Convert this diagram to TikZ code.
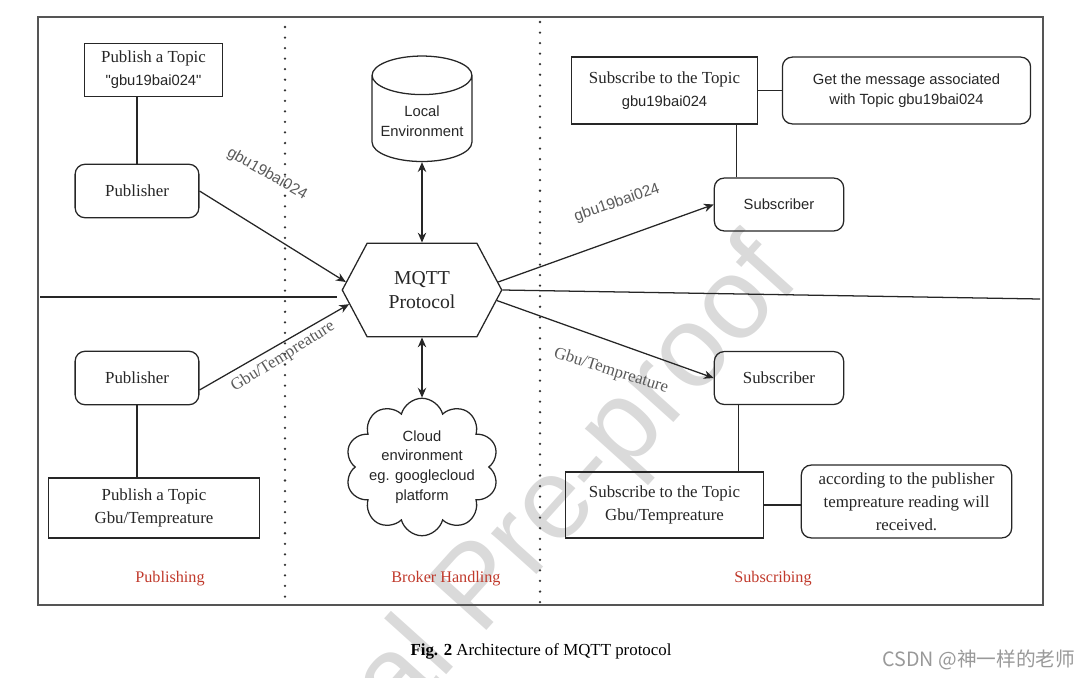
\documentclass[tikz,border=0pt]{standalone}
\usepackage{fontspec}
\setmainfont{Liberation Serif}
\newfontfamily\arialfont{Liberation Sans}
\newfontfamily\cjkfont{Noto Sans CJK SC}
\usetikzlibrary{arrows.meta, shapes.geometric, shapes.symbols, calc}

\definecolor{framegray}{HTML}{555555}
\definecolor{labelred}{HTML}{C0392B}
\definecolor{labelgray}{HTML}{5A5A5A}
\definecolor{markgray}{HTML}{DADADA}

\begin{document}
\begin{tikzpicture}[
    x=0.025cm, y=-0.025cm,
    box/.style={draw=black!85, line width=0.9pt, align=center, inner sep=2pt,
        text=black!85, font=\fontsize{12}{16.5}\selectfont},
    roundbox/.style={box, rounded corners=7pt},
    sansbox/.style={font=\arialfont\fontsize{10.5}{14}\selectfont},
    link/.style={draw=black!85, line width=0.9pt},
    flow/.style={link, -{Stealth[length=7pt, width=6pt]}},
    both/.style={link, {Stealth[length=7pt, width=6pt]}-{Stealth[length=7pt, width=6pt]}},
    topic/.style={text=labelgray, inner sep=0pt},
    section/.style={text=labelred, font=\fontsize{11.5}{13}\selectfont},
    divider/.style={black!80, line width=1.8pt, dash pattern=on 0pt off 7.5pt,
        line cap=round},
]
\useasboundingbox (0,0) rectangle (1083,677);

% =============================================================================
% Watermark
% =============================================================================
\begin{scope}
    \clip (0,0) rectangle (1083,677);
    \node[rotate=48, anchor=base east, inner sep=0pt, text=markgray,
        font=\arialfont\fontsize{82}{82}\selectfont] (mark) at (802,280)
        {Journal Pre-proof};
\end{scope}

% =============================================================================
% Frame and section dividers
% =============================================================================
\draw[framegray, line width=1.5pt] (38,17) rectangle (1043,605);
\draw[divider] (285,27) -- (285,603);
\draw[divider] (540,22) -- (540,603);

\coordinate (sepL) at (40,297);
\coordinate (sepR) at (1040,299);

% =============================================================================
% Broker handling
% =============================================================================
\node[draw=black!85, line width=0.9pt, signal, signal to=west and east,
    signal pointer angle=124, minimum width=113.4pt, minimum height=66.6pt,
    align=center, text=black!85, font=\fontsize{14}{17.5}\selectfont]
    (mqtt) at (422,290) {MQTT\\Protocol};

\node[draw=black!85, line width=0.9pt, cylinder, shape border rotate=90,
    aspect=0.45, inner sep=1pt, minimum width=71pt, minimum height=75pt,
    align=center, text=black!85, sansbox] (local) at (422,121) {Local\\Environment};

\node[draw=black!85, line width=0.9pt, cloud, cloud puffs=10, aspect=1.2,
    minimum width=108pt, minimum height=90pt, inner sep=-4pt, align=center,
    text=black!85, sansbox] (cloud) at (422,467)
    {Cloud\\environment\\eg. googlecloud\\platform};

\draw[both] (local.south) -- (mqtt.north);
\draw[both] (mqtt.south) -- (cloud.north);

\node[section] (brokerlabel) at (446,579) {Broker Handling};

% =============================================================================
% Publishing
% =============================================================================
\node[box, minimum width=98.5pt, minimum height=38pt] (pubtopic1) at (153.5,70)
    {Publish a Topic\\{\arialfont\fontsize{10.5}{14}\selectfont "gbu19bai024"}};
\node[roundbox, minimum width=88pt, minimum height=38pt] (pub1) at (137,191) {Publisher};
\node[roundbox, minimum width=88pt, minimum height=38pt] (pub2) at (137,378) {Publisher};
\node[box, minimum width=150pt, minimum height=42.5pt] (pubtopic2) at (154,508)
    {Publish a Topic\\Gbu/Tempreature};

\draw[link] (pub1.north) -- (pub1.north |- pubtopic1.south);
\draw[link] (pub2.south) -- (pub2.south |- pubtopic2.north);

\draw[flow] (pub1.east) -- (mqtt.174);
\draw[flow] ($(pub2.east)+(0,12)$) -- (mqtt.191);
\draw[link] (sepL) -- ($(sepL -| mqtt.west)+(-5,0)$);

\node[topic, rotate=-30, font=\arialfont\fontsize{11}{13}\selectfont] (topicA) at (267,174) {gbu19bai024};
\node[topic, rotate=32, font=\fontsize{12}{14}\selectfont] (topicB) at (283,357) {Gbu/Tempreature};

\node[section] (publabel) at (170,579) {Publishing};

% =============================================================================
% Subscribing
% =============================================================================
\node[box, minimum width=132.6pt, minimum height=47.5pt] (subtopic1) at (664.5,90.5)
    {Subscribe to the Topic\\{\arialfont\fontsize{10.5}{14}\selectfont gbu19bai024}};
\node[roundbox, sansbox, minimum width=176.5pt, minimum height=47.5pt] (msg1) at (906.5,90.5)
    {Get the message associated\\with Topic gbu19bai024};
\node[roundbox, sansbox, minimum width=92pt, minimum height=37.6pt] (sub1) at (779,204.5) {Subscriber};
\node[roundbox, minimum width=92pt, minimum height=37.6pt] (sub2) at (779,378) {Subscriber};
\node[box, minimum width=141pt, minimum height=47pt] (subtopic2) at (664.5,505)
    {Subscribe to the Topic\\Gbu/Tempreature};
\node[roundbox, minimum width=149.6pt, minimum height=51.8pt] (msg2) at (906.5,501.5)
    {according to the publisher\\tempreature reading will\\received.};

\draw[link] (subtopic1.east) -- (msg1.west);
\draw[link] (subtopic2.east) -- (subtopic2.east -| msg2.west);
\draw[link] ([xshift=16pt]sub1.north west) -- ([xshift=16pt]sub1.north west |- subtopic1.south);
\draw[link] ([xshift=17.7pt]sub2.south west) -- ([xshift=17.7pt]sub2.south west |- subtopic2.north);

\draw[flow] (mqtt.6.6) -- (sub1.west);
\draw[flow] (mqtt.-8.7) -- (sub2.west);
\draw[link] (mqtt.east) -- (sepR);

\node[topic, rotate=19, font=\arialfont\fontsize{11}{13}\selectfont] (topicC) at (617,203) {gbu19bai024};
\node[topic, rotate=-17.5, font=\fontsize{12}{14}\selectfont] (topicD) at (611,371) {Gbu/Tempreature};

\node[section] (sublabel) at (773,579) {Subscribing};

% =============================================================================
% Caption
% =============================================================================
\node[font=\fontsize{12}{14}\selectfont] (caption) at (541,651)
    {\textbf{Fig. 2} Architecture of MQTT protocol};
\node[text=black!40, font=\cjkfont\fontsize{14}{16}\selectfont] (csdn) at (979,660)
    {CSDN @神一样的老师};

\end{tikzpicture}
\end{document}
